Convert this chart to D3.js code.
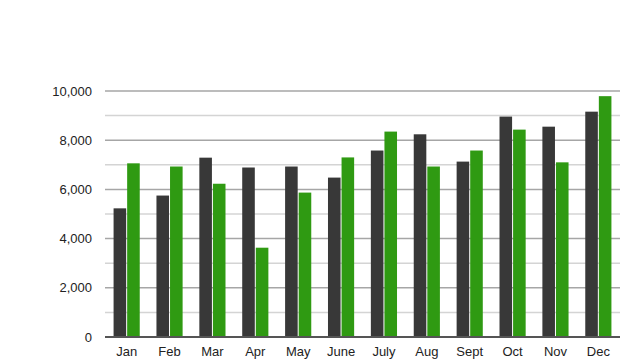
<!DOCTYPE html>
<html>
<head>
<meta charset="utf-8">
<script src="https://cdn.jsdelivr.net/npm/d3@7"></script>
<style>
  body { margin: 0; background: #fff; }
  text { font-family: Arial, "Liberation Sans", sans-serif; }
</style>
</head>
<body>
<div id="chart"></div>
<script>
const months = ['Jan', 'Feb', 'Mar', 'Apr', 'May', 'June', 'July', 'Aug', 'Sept', 'Oct', 'Nov', 'Dec'];
const darkValues = [5230, 5750, 7290, 6890, 6930, 6480, 7580, 8240, 7130, 8960, 8550, 9160];
const greenValues = [7060, 6930, 6230, 3630, 5870, 7300, 8350, 6930, 7580, 8430, 7100, 9790];
const majorTicks = [0, 2000, 4000, 6000, 8000, 10000];
const minorTicks = [1000, 3000, 5000, 7000, 9000];

const width = 640;
const height = 360;
const margin = {top: 91, right: 20, bottom: 23, left: 105};

const svg = d3.select('#chart').append('svg')
    .attr('width', width)
    .attr('height', height);

const scaleX = d3.scaleBand()
  .domain(months)
  .range([margin.left, width - margin.right])
  .paddingInner(0.39)
  .paddingOuter(0.2);

const scaleY = d3.scaleLinear()
  .domain([0, 10000])
  .range([height - margin.bottom, margin.top]);

// minor gridlines (lighter)
svg.append('g')
  .selectAll('line')
  .data(minorTicks)
  .enter().append('line')
    .attr('x1', margin.left)
    .attr('x2', width - margin.right)
    .attr('y1', d => scaleY(d))
    .attr('y2', d => scaleY(d))
    .attr('stroke', '#d4d4d4')
    .attr('stroke-width', 1.5);

// major gridlines
svg.append('g')
  .selectAll('line')
  .data(majorTicks.slice(1))
  .enter().append('line')
    .attr('x1', margin.left)
    .attr('x2', width - margin.right)
    .attr('y1', d => scaleY(d))
    .attr('y2', d => scaleY(d))
    .attr('stroke', '#a6a6a6')
    .attr('stroke-width', 1.5);

const yAxis = d3.axisLeft(scaleY)
  .tickValues(majorTicks)
  .tickFormat(d3.format(','))
  .tickSize(0)
  .tickPadding(13);

svg.append('g')
  .attr('transform', `translate(${margin.left}, 0)`)
  .call(yAxis)
  .call(g => g.select('.domain').remove())
  .call(g => g.selectAll('text').attr('font-size', 13).attr('fill', '#222'));

const barW = scaleX.bandwidth() / 2 - 0.5;

svg.append('g')
  .selectAll('rect')
  .data(months)
  .enter().append('rect')
    .attr('x', (d, i) => scaleX(d))
    .attr('y', (d, i) => scaleY(darkValues[i]))
    .attr('width', barW)
    .attr('height', (d, i) => scaleY(0) - scaleY(darkValues[i]))
    .attr('fill', '#383838');

svg.append('g')
  .selectAll('rect')
  .data(months)
  .enter().append('rect')
    .attr('x', (d, i) => scaleX(d) + barW + 1)
    .attr('y', (d, i) => scaleY(greenValues[i]))
    .attr('width', barW)
    .attr('height', (d, i) => scaleY(0) - scaleY(greenValues[i]))
    .attr('fill', '#2f9a12');

const xAxis = d3.axisBottom(scaleX)
  .tickSize(0)
  .tickPadding(10);

svg.append('g')
  .attr('transform', `translate(0, ${scaleY(0)})`)
  .call(xAxis)
  .call(g => g.select('.domain').remove())
  .call(g => g.selectAll('text').attr('font-size', 13).attr('fill', '#222'));

svg.append('line')
  .attr('x1', margin.left)
  .attr('x2', width - margin.right)
  .attr('y1', scaleY(0))
  .attr('y2', scaleY(0))
  .attr('stroke', '#555')
  .attr('stroke-width', 2);
</script>
</body>
</html>
